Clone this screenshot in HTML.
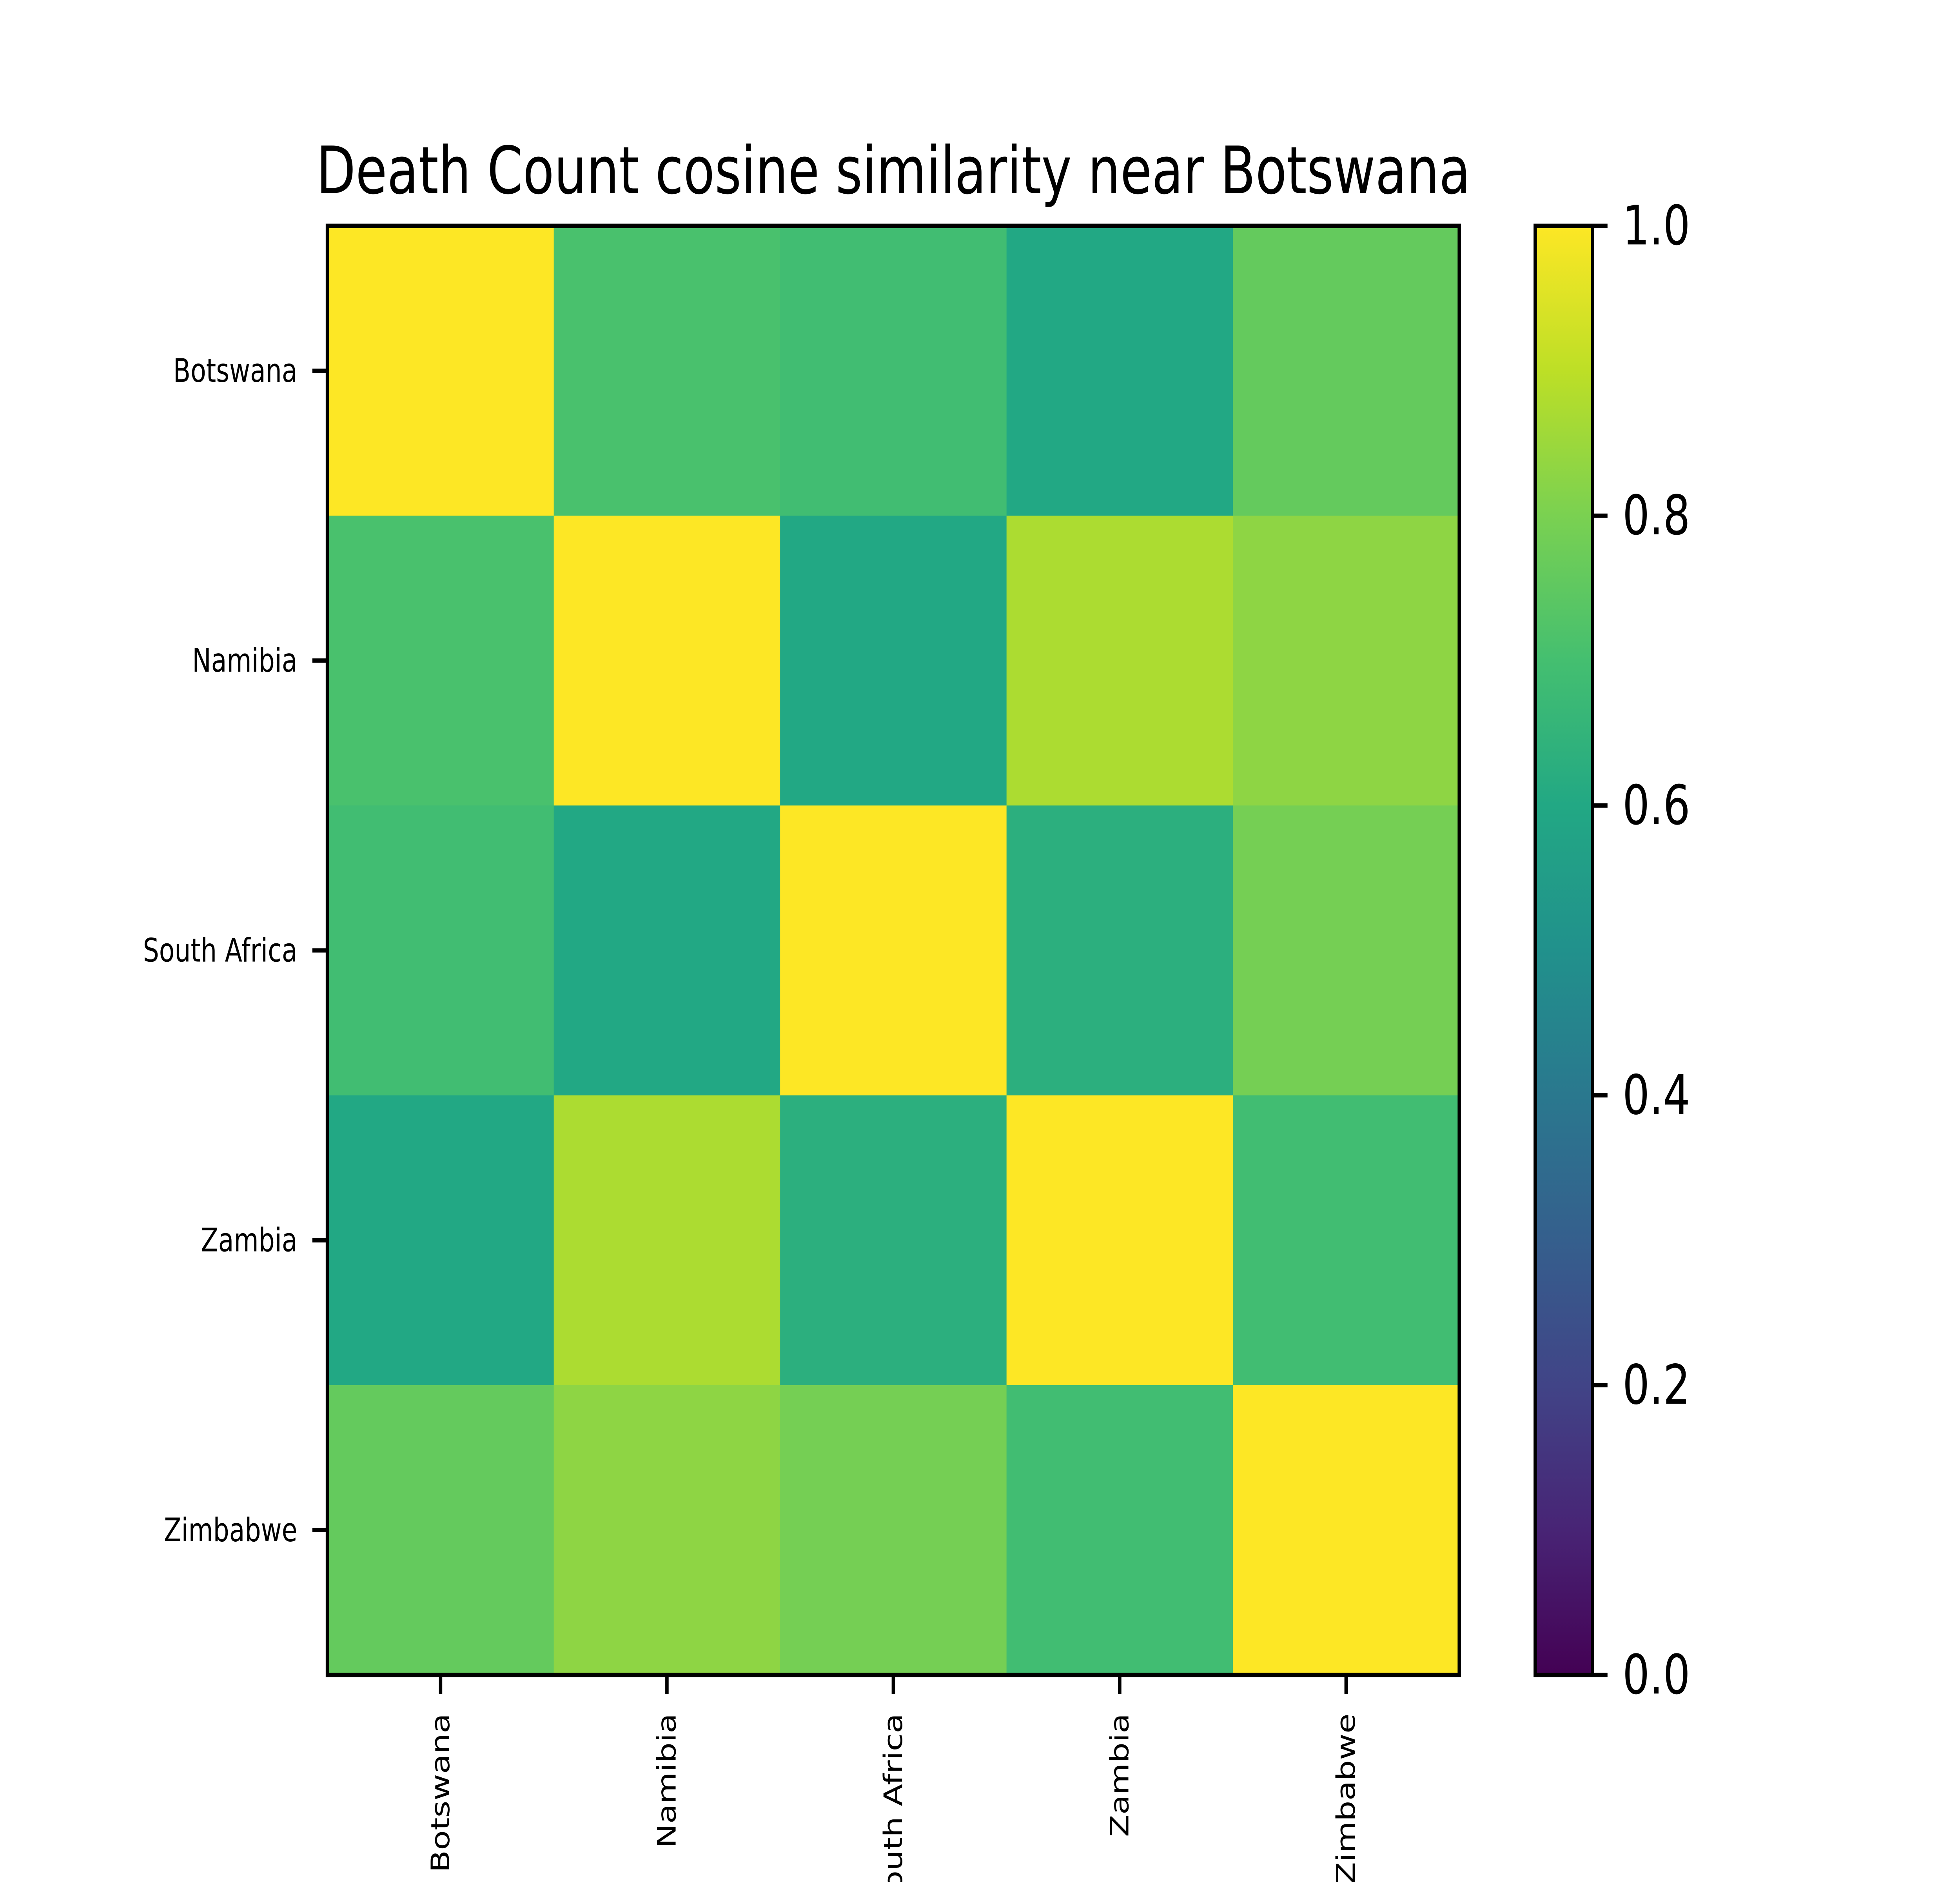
<!DOCTYPE html>
<html><head><meta charset="utf-8"><style>
html,body{margin:0;padding:0;background:#fff;width:100%;height:100%;overflow:hidden;}
svg{display:block;width:100vw;height:100vh;font-family:"DejaVu Sans","Liberation Sans",sans-serif;}
</style></head><body>
<svg id="chart" viewBox="0 0 6400 4800" preserveAspectRatio="none" xmlns="http://www.w3.org/2000/svg">
<rect width="6400" height="4800" fill="#fff"/>
<text x="2917" y="493" font-size="167" text-anchor="middle">Death Count cosine similarity near Botswana</text>
<g id="cells"></g><g id="ticks"></g>
<defs><linearGradient id="vir" x1="0" y1="1" x2="0" y2="0"></linearGradient></defs>
<rect x="5013" y="576" width="187" height="3696" fill="url(#vir)" stroke="#000" stroke-width="11"/>
<g id="cbticks"></g>
</svg>
<script>
const categories = ["Botswana","Namibia","South Africa","Zambia","Zimbabwe"];
const row0 = [1.00, 0.71, 0.69, 0.60, 0.76];
const row1 = [0.71, 1.00, 0.60, 0.875, 0.83];
const row2 = [0.69, 0.60, 1.00, 0.63, 0.79];
const row3 = [0.60, 0.875, 0.63, 1.00, 0.69];
const row4 = [0.76, 0.83, 0.79, 0.69, 1.00];
const cbTicks = [0.0, 0.2, 0.4, 0.6, 0.8, 1.0];
const cbTickLabels = ["0.0","0.2","0.4","0.6","0.8","1.0"];
const values = [row0,row1,row2,row3,row4];

const NS="http://www.w3.org/2000/svg";
const vir=["#440154","#482475","#414487","#355f8d","#2a788e","#21918c","#22a884","#44bf70","#7ad151","#bddf26","#fde725"];
function hex(h){return [1,3,5].map(i=>parseInt(h.substr(i,2),16));}
function viridis(v){v=Math.max(0,Math.min(1,v));const p=v*10,i=Math.min(9,Math.floor(p)),t=p-i;const a=hex(vir[i]),b=hex(vir[i+1]);return "rgb("+a.map((c,k)=>Math.round(c+(b[k]-c)*t)).join(",")+")";}
const L=1069,T=576,S=3696,n=categories.length,cw=S/n;
const xPos=i=>L+i*cw, yPos=i=>T+i*cw;
const cbY=v=>T+S*(1-v);
function mk(tag,attrs,parent){const e=document.createElementNS(NS,tag);for(const k in attrs)e.setAttribute(k,attrs[k]);parent.appendChild(e);return e;}
const cells=document.getElementById('cells'),ticks=document.getElementById('ticks'),cbt=document.getElementById('cbticks');
values.forEach((row,r)=>row.forEach((v,c)=>{
  const e=mk('rect',{x:xPos(c),y:yPos(r),width:cw+0.5,height:cw+0.5,fill:viridis(v)},cells);
  
  
}));
const frame=mk('rect',{x:L,y:T,width:S,height:S,fill:'none',stroke:'#000','stroke-width':11},cells);


categories.forEach((c,i)=>{
  const cy=yPos(i)+cw/2, cx=xPos(i)+cw/2;
  mk('line',{x1:L-49,x2:L,y1:cy,y2:cy,stroke:'#000','stroke-width':11},ticks);
  const yl=mk('text',{x:L-98,y:cy,'font-size':83,'text-anchor':'end','dominant-baseline':'central'},ticks);
  yl.textContent=c;
  
  
  mk('line',{x1:cx,x2:cx,y1:T+S,y2:T+S+49,stroke:'#000','stroke-width':11},ticks);
  const xl=mk('text',{x:0,y:0,'font-size':83,'text-anchor':'end','dominant-baseline':'central',transform:`translate(${cx},${T+S+98}) rotate(-90)`},ticks);
  xl.textContent=c;
  
  
});
const grad=document.getElementById('vir');
vir.forEach((col,i)=>mk('stop',{offset:(i/10),'stop-color':col},grad));
cbTicks.forEach((v,i)=>{
  const y=cbY(v);
  mk('line',{x1:5200,x2:5249,y1:y,y2:y,stroke:'#000','stroke-width':11},cbt);
  const t=mk('text',{x:5298,y:y,'font-size':139,'dominant-baseline':'central'},cbt);
  t.textContent=cbTickLabels[i];
  
  
});
</script>
</body></html>
